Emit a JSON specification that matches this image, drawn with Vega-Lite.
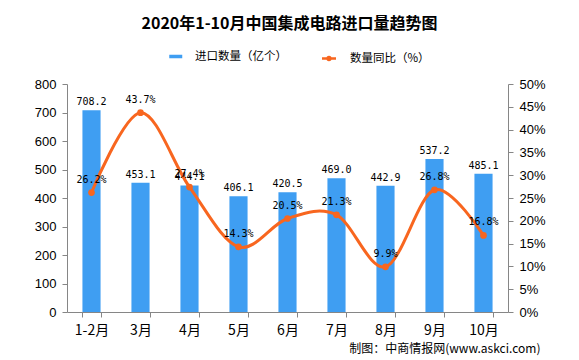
{
  "$schema": "https://vega.github.io/schema/vega-lite/v6.json",
  "width": 441,
  "height": 228,
  "autosize": {"type": "none"},
  "padding": {"left": 67, "top": 84, "right": 71, "bottom": 48},
  "background": "white",
  "title": {
    "text": "2020年1-10月中国集成电路进口量趋势图",
    "font": "Noto Sans CJK SC",
    "fontSize": 16,
    "fontWeight": "bold",
    "color": "#000000",
    "anchor": "middle",
    "offset": 18,
    "dx": 2
  },
  "data": {
    "values": [
      {"month": "1-2月", "qty": 708.2, "yoy": 0.262},
      {"month": "3月", "qty": 453.1, "yoy": 0.437},
      {"month": "4月", "qty": 444.1, "yoy": 0.274},
      {"month": "5月", "qty": 406.1, "yoy": 0.143},
      {"month": "6月", "qty": 420.5, "yoy": 0.205},
      {"month": "7月", "qty": 469.0, "yoy": 0.213},
      {"month": "8月", "qty": 442.9, "yoy": 0.099},
      {"month": "9月", "qty": 537.2, "yoy": 0.268},
      {"month": "10月", "qty": 485.1, "yoy": 0.168}
    ]
  },
  "config": {
    "view": {"stroke": null},
    "axis": {
      "domainColor": "#868686",
      "tickColor": "#868686",
      "grid": false,
      "labelColor": "#000000",
      "tickSize": 5,
      "labelOverlap": false
    }
  },
  "encoding": {
    "x": {
      "field": "month",
      "type": "nominal",
      "sort": null,
      "scale": {"paddingInner": 0.63, "paddingOuter": 0.315},
      "axis": {
        "tickBand": "extent",
        "labelAngle": 0,
        "labelFont": "Noto Sans CJK SC",
        "labelFontSize": 14,
        "labelPadding": 6,
        "title": "制图：中商情报网(www.askci.com)",
        "titleFont": "Noto Sans CJK SC",
        "titleFontSize": 12,
        "titleFontWeight": "normal",
        "titleColor": "#000000",
        "titleAnchor": "end",
        "titleAlign": "right",
        "titleBaseline": "middle",
        "titleX": 473,
        "titleY": 36
      }
    }
  },
  "layer": [
    {
      "encoding": {
        "y": {
          "field": "qty",
          "type": "quantitative",
          "scale": {"domain": [0, 800]},
          "axis": {
            "orient": "left",
            "values": [0, 100, 200, 300, 400, 500, 600, 700, 800],
            "labelFont": "Liberation Sans",
            "labelFontSize": 13,
            "labelPadding": 6,
            "title": null
          }
        }
      },
      "layer": [
        {
          "mark": {"type": "bar", "color": "#3F9EF2"},
          "encoding": {
            "fill": {
              "datum": "进口数量（亿个）",
              "type": "nominal",
              "scale": {"range": ["#3F9EF2"]},
              "legend": {
                "orient": "none",
                "legendX": 99,
                "legendY": -34,
                "title": null,
                "labelFont": "Noto Sans CJK SC",
                "labelFontSize": 11.5,
                "labelColor": "#000000",
                "symbolType": "M-0.5,-0.27H1.5V0.27H-0.5Z",
                "symbolSize": 169,
                "symbolStrokeWidth": 0,
                "labelOffset": 16
              }
            }
          }
        },
        {
          "mark": {
            "type": "text",
            "font": "DejaVu Sans Mono",
            "fontSize": 10,
            "baseline": "bottom",
            "dy": -3,
            "color": "#000000"
          },
          "encoding": {
            "text": {"field": "qty", "type": "quantitative", "format": ".1f"}
          }
        }
      ]
    },
    {
      "encoding": {
        "y": {
          "field": "yoy",
          "type": "quantitative",
          "scale": {"domain": [0, 0.5]},
          "axis": {
            "orient": "right",
            "values": [0, 0.05, 0.1, 0.15, 0.2, 0.25, 0.3, 0.35, 0.4, 0.45, 0.5],
            "format": ".0%",
            "labelFont": "Liberation Sans",
            "labelFontSize": 13,
            "labelPadding": 6,
            "title": null
          }
        }
      },
      "layer": [
        {
          "mark": {"type": "line", "interpolate": "cardinal", "strokeWidth": 3, "color": "#F8661F"},
          "encoding": {
            "stroke": {
              "datum": "数量同比（%）",
              "type": "nominal",
              "scale": {"range": ["#F8661F"]},
              "legend": {
                "orient": "none",
                "legendX": 250,
                "legendY": -34,
                "title": null,
                "labelFont": "Noto Sans CJK SC",
                "labelFontSize": 11.5,
                "labelColor": "#000000",
                "symbolType": "M-0.5,0H0.3A0.2,0.2 0 1 1 0.7,0A0.2,0.2 0 1 1 0.3,0M0.7,0H1.5",
                "symbolSize": 196,
                "symbolStrokeWidth": 2.5,
                "symbolFillColor": "#F8661F",
                "labelOffset": 16,
                "encode": {"symbols": {"update": {"fill": {"value": "#F8661F"}}}}
              }
            }
          }
        },
        {
          "mark": {"type": "point", "filled": true, "size": 45, "color": "#F8661F", "opacity": 1}
        },
        {
          "mark": {
            "type": "text",
            "font": "DejaVu Sans Mono",
            "fontSize": 10,
            "baseline": "middle",
            "dy": -13,
            "color": "#000000"
          },
          "encoding": {
            "text": {"field": "yoy", "type": "quantitative", "format": ".1%"}
          }
        }
      ]
    }
  ],
  "resolve": {"scale": {"y": "independent"}}
}
